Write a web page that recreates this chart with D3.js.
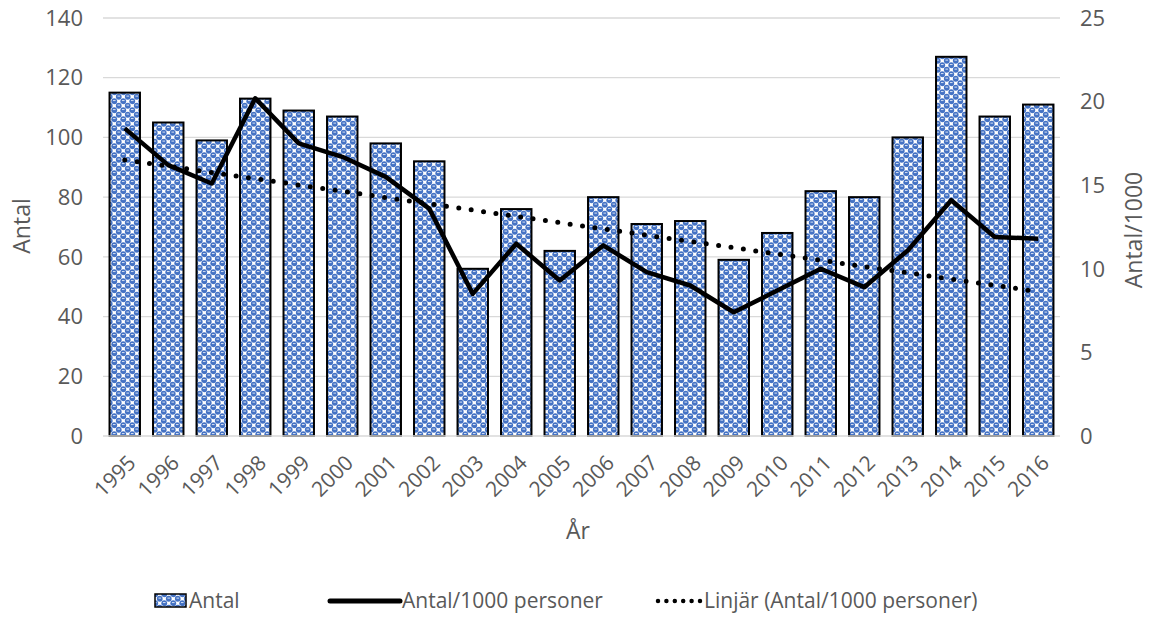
<!DOCTYPE html>
<html>
<head>
<meta charset="utf-8">
<script src="https://cdn.jsdelivr.net/npm/d3@7"></script>
<style>
  body { margin: 0; background: #fff; }
  text { font-family: "Open Sans", "Noto Sans", sans-serif; fill: #595959; }
</style>
</head>
<body>
<div id="chart"></div>
<script>
// data
const years = ["1995","1996","1997","1998","1999","2000","2001","2002","2003","2004","2005",
               "2006","2007","2008","2009","2010","2011","2012","2013","2014","2015","2016"];
const antal = [115, 105, 99, 113, 109, 107, 98, 92, 56, 76, 62, 80, 71, 72, 59, 68, 82, 80, 100, 127, 107, 111];
const perThousand = [18.4, 16.2, 15.1, 20.2, 17.5, 16.7, 15.5, 13.6, 8.5, 11.5, 9.3, 11.4, 9.8, 9.0, 7.4, 8.7, 10.0, 8.9, 11.1, 14.1, 11.9, 11.8];
const leftTicks = [0, 20, 40, 60, 80, 100, 120, 140];
const rightTicks = [0, 5, 10, 15, 20, 25];

const W = 1150, H = 619;
const margin = { top: 18, right: 90, bottom: 183, left: 103 };
const width = W - margin.left - margin.right,
      height = H - margin.top - margin.bottom;

const svg = d3.select("#chart").append("svg")
    .attr("width", W).attr("height", H);

// bubble pattern for bars (blue circles on a checker, white between)
const P = 9, q = P / 4;
const defs = svg.append("defs");
const pat = defs.append("pattern")
    .attr("id", "bubbles")
    .attr("patternUnits", "userSpaceOnUse")
    .attr("width", P).attr("height", P);
pat.append("rect").attr("width", P).attr("height", P).attr("fill", "#fff");
[[q, q], [3 * q, 3 * q]].forEach(([cx, cy]) => {
    [-P, 0, P].forEach(ox => [-P, 0, P].forEach(oy => {
        pat.append("circle").attr("cx", cx + ox).attr("cy", cy + oy).attr("r", 2.9).attr("fill", "#4472C4");
        pat.append("rect").attr("x", cx + ox - 1.3).attr("y", cy + oy - 1.1).attr("width", 2.6).attr("height", 0.9).attr("fill", "#e4ebf8");
    }));
});

const g = svg.append("g").attr("transform", `translate(${margin.left},${margin.top})`);

const x = d3.scaleBand().domain(years).range([0, width]).paddingInner(0.3).paddingOuter(0.15);
const yL = d3.scaleLinear().domain([0, 140]).range([height, 0]);
const yR = d3.scaleLinear().domain([0, 25]).range([height, 0]);

// gridlines
g.append("g").selectAll("line").data(leftTicks.filter(d => d > 0)).join("line")
    .attr("x1", 0).attr("x2", width)
    .attr("y1", d => yL(d)).attr("y2", d => yL(d))
    .attr("stroke", "#d9d9d9").attr("stroke-width", 1.3);

// left axis labels
g.append("g").selectAll("text").data(leftTicks).join("text")
    .attr("x", -20).attr("y", d => yL(d)).attr("dy", "0.35em")
    .attr("text-anchor", "end").style("font-size", "22px")
    .text(d => d);

// right axis labels
g.append("g").selectAll("text").data(rightTicks).join("text")
    .attr("x", width + 20).attr("y", d => yR(d)).attr("dy", "0.35em")
    .attr("text-anchor", "start").style("font-size", "22px")
    .text(d => d);

// bars
g.append("g").selectAll("rect").data(years).join("rect")
    .attr("x", d => x(d))
    .attr("y", (d, i) => yL(antal[i]))
    .attr("width", x.bandwidth())
    .attr("height", (d, i) => height - yL(antal[i]))
    .attr("fill", "url(#bubbles)")
    .attr("stroke", "#000").attr("stroke-width", 2);

// baseline
g.append("line").attr("x1", 0).attr("x2", width).attr("y1", height).attr("y2", height)
    .attr("stroke", "#d9d9d9").attr("stroke-width", 1.5);

const cx = d => x(d) + x.bandwidth() / 2;

// linear trend of the per-1000 series
const n = years.length;
const xs = d3.range(n);
const mx = d3.mean(xs), my = d3.mean(perThousand);
const slope = d3.sum(xs, i => (i - mx) * (perThousand[i] - my)) / d3.sum(xs, i => (i - mx) * (i - mx));
const icpt = my - slope * mx;

const line = d3.line().x(d => d[0]).y(d => d[1]);

g.append("path")
    .datum(years.map((d, i) => [cx(d), yR(icpt + slope * i)]))
    .attr("d", line)
    .attr("fill", "none").attr("stroke", "#000")
    .attr("stroke-width", 5).attr("stroke-linecap", "round")
    .attr("stroke-dasharray", "0 12.5");

g.append("path")
    .datum(years.map((d, i) => [cx(d), yR(perThousand[i])]))
    .attr("d", line)
    .attr("fill", "none").attr("stroke", "#000")
    .attr("stroke-width", 4.5).attr("stroke-linejoin", "round");

// x tick labels
g.append("g").selectAll("text").data(years).join("text")
    .attr("transform", d => `translate(${cx(d) + 1},${height + 17}) rotate(-45)`)
    .attr("text-anchor", "end").attr("dy", "0.75em")
    .style("font-size", "21px")
    .text(d => d);

// axis titles
svg.append("text").attr("x", 578).attr("y", 539).attr("text-anchor", "middle")
    .style("font-size", "23px").text("År");
svg.append("text").attr("transform", "translate(30,226) rotate(-90)")
    .attr("text-anchor", "middle").style("font-size", "23px").text("Antal");
svg.append("text").attr("transform", "translate(1142,230) rotate(-90)")
    .attr("text-anchor", "middle").style("font-size", "23px").text("Antal/1000");

// legend
const lg = svg.append("g").attr("transform", "translate(0,601)");
lg.append("rect").attr("x", 155).attr("y", -7).attr("width", 31).attr("height", 13)
    .attr("fill", "url(#bubbles)").attr("stroke", "#000").attr("stroke-width", 1.5);
lg.append("text").attr("x", 189).attr("y", 0).attr("dy", "0.35em").style("font-size", "21px").text("Antal");
lg.append("line").attr("x1", 330).attr("x2", 400).attr("y1", 0).attr("y2", 0)
    .attr("stroke", "#000").attr("stroke-width", 5).attr("stroke-linecap", "round");
lg.append("text").attr("x", 402).attr("y", 0).attr("dy", "0.35em").style("font-size", "21px").text("Antal/1000 personer");
lg.append("line").attr("x1", 658).attr("x2", 700).attr("y1", 0).attr("y2", 0)
    .attr("stroke", "#000").attr("stroke-width", 4.5).attr("stroke-linecap", "round")
    .attr("stroke-dasharray", "0 8.4");
lg.append("text").attr("x", 704).attr("y", 0).attr("dy", "0.35em").style("font-size", "21px").text("Linjär (Antal/1000 personer)");
</script>
</body>
</html>
